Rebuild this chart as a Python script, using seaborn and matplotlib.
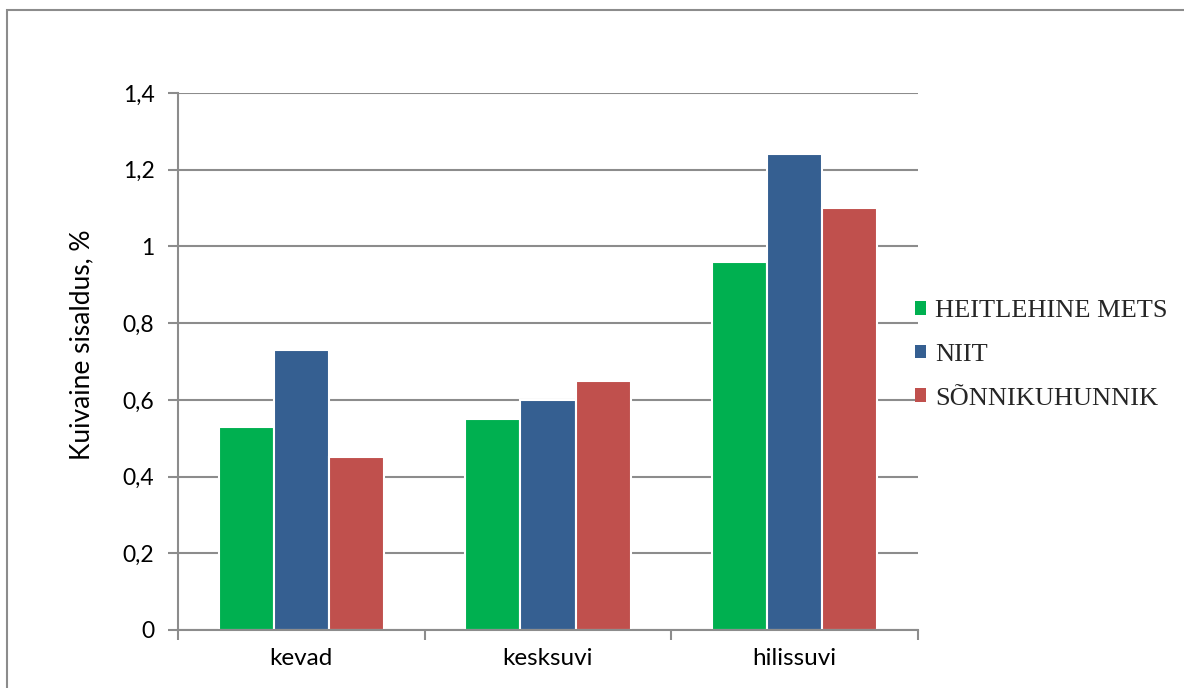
import matplotlib
matplotlib.use("Agg")
import matplotlib.pyplot as plt
import seaborn as sns
import pandas as pd
from matplotlib.patches import Rectangle
from matplotlib.ticker import FuncFormatter, FixedLocator

categories = ["kevad", "kesksuvi", "hilissuvi"]
series = ["HEITLEHINE METS", "NIIT", "SÕNNIKUHUNNIK"]
heitlehine = [0.53, 0.55, 0.96]
niit = [0.73, 0.60, 1.24]
sonnik = [0.45, 0.65, 1.10]
colors = ["#00B050", "#355F91", "#C0504D"]

rows = []
for s, vals in zip(series, [heitlehine, niit, sonnik]):
    for c, v in zip(categories, vals):
        rows.append({"kategooria": c, "seeria": s, "vaartus": v})
df = pd.DataFrame(rows)

sns.set_theme(style="white")
plt.rcParams['font.family'] = ['Lato', 'DejaVu Sans']

fig = plt.figure(figsize=(11.84, 6.88), dpi=100)
ax = fig.add_axes([178/1184, 58/688, 740/1184, 537/688])

sns.barplot(data=df, x="kategooria", y="vaartus", hue="seeria", palette=colors,
            width=0.67, edgecolor="white", linewidth=1.5, ax=ax, errorbar=None,
            saturation=1)

ax.set_ylim(0, 1.4)
ax.set_xlim(-0.5, 2.5)
ax.set_yticks([0, 0.2, 0.4, 0.6, 0.8, 1.0, 1.2, 1.4])
ax.yaxis.set_major_formatter(FuncFormatter(lambda v, p: ("%g" % round(v, 1)).replace(".", ",")))
ax.yaxis.grid(True, color="#8C8C8C", linewidth=1.5)
ax.set_axisbelow(True)

for side in ["top", "right"]:
    ax.spines[side].set_visible(False)
for side in ["left", "bottom"]:
    ax.spines[side].set_color("#8C8C8C")
    ax.spines[side].set_linewidth(1.5)

ax.tick_params(axis="y", which="major", left=True, length=7, width=1.5, color="#8C8C8C",
               labelsize=16.5, labelcolor="black", pad=10)
ax.tick_params(axis="x", which="major", bottom=False, length=0, labelsize=17.5,
               labelcolor="black", pad=13)
ax.xaxis.set_minor_locator(FixedLocator([-0.5, 0.5, 1.5, 2.5]))
ax.tick_params(axis="x", which="minor", bottom=True, length=7, width=1.5, color="#8C8C8C")

ax.set_xlabel("")
ax.set_ylabel("Kuivaine sisaldus, %", fontsize=19, color="black")
ax.yaxis.set_label_coords(-84/740, (630 - 345)/537)

handles, labels = ax.get_legend_handles_labels()
leg = ax.legend(handles, labels, loc="center left", bbox_to_anchor=(915/1184, 1 - 355/688),
                bbox_transform=fig.transFigure, frameon=False,
                prop={"family": "Liberation Serif", "size": 19},
                handlelength=0.42, handleheight=0.42, handletextpad=0.35,
                labelspacing=0.82, borderpad=0, borderaxespad=0)
for h in leg.legend_handles:
    h.set_edgecolor("none")

border = Rectangle((7/1184, -0.1), 1.2, 1 - 10/688 + 0.1, transform=fig.transFigure,
                   fill=False, edgecolor="#8C8C8C", linewidth=1.5)
fig.patches.append(border)

fig.savefig("out.png", dpi=100)
